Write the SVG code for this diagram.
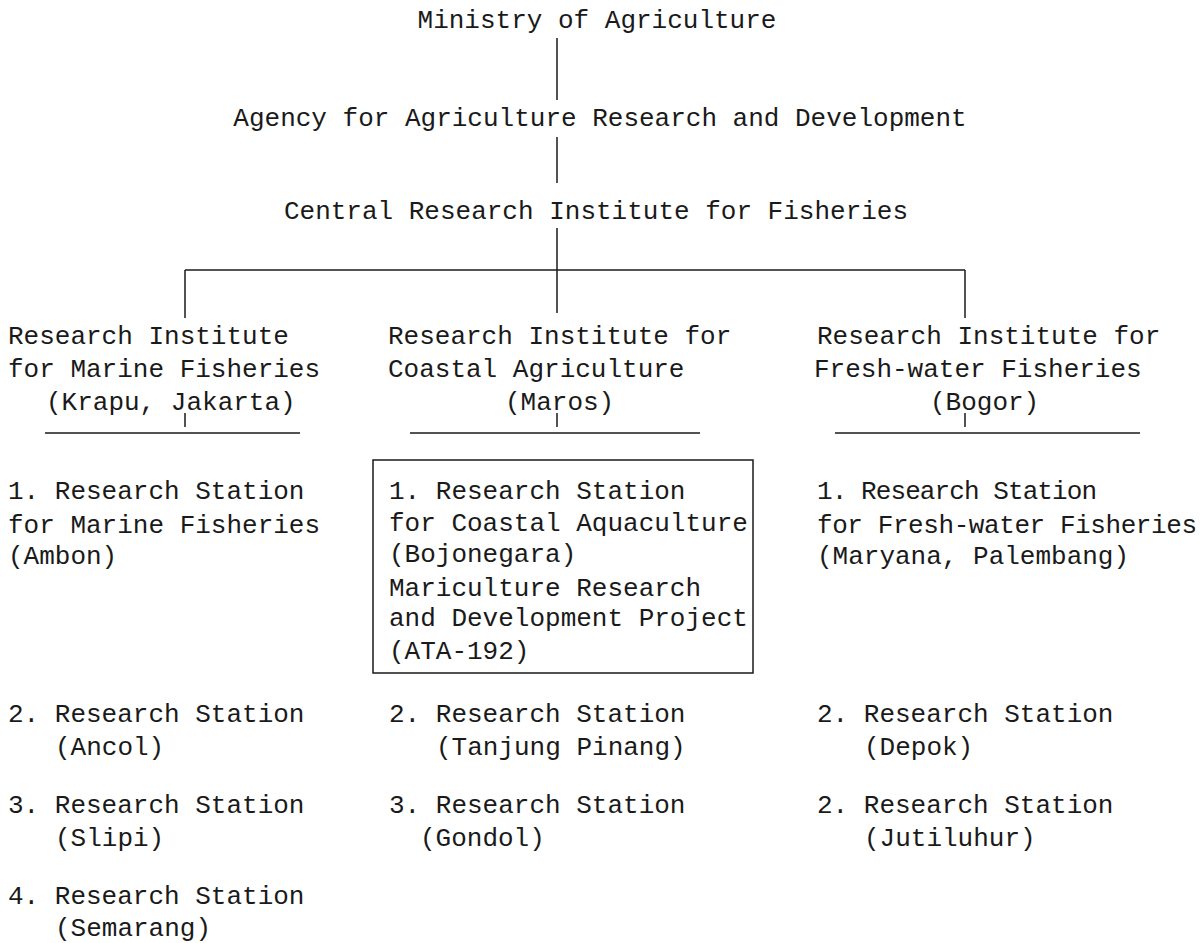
<svg xmlns="http://www.w3.org/2000/svg" width="1203" height="943" viewBox="0 0 1203 943">
<style>
text{font-family:"Liberation Mono","DejaVu Sans Mono",monospace;font-size:26px;fill:#1a1a1a}
.ln{stroke:#1a1a1a;stroke-width:1.5;fill:none}
</style>
<rect width="1203" height="943" fill="#fff"/>
<g id="connectors" class="ln">
<line x1="557" y1="38" x2="557" y2="100"/>
<line x1="557" y1="137" x2="557" y2="183"/>
<line x1="557" y1="228" x2="557" y2="313"/>
<line x1="185" y1="270" x2="965" y2="270"/>
<line x1="185" y1="270" x2="185" y2="318"/>
<line x1="965" y1="270" x2="965" y2="318"/>
<line x1="185" y1="413" x2="185" y2="427"/>
<line x1="557" y1="413" x2="557" y2="427"/>
<line x1="965" y1="413" x2="965" y2="427"/>
<line x1="45" y1="433" x2="300" y2="433"/>
<line x1="410" y1="433" x2="700" y2="433"/>
<line x1="835" y1="433" x2="1140" y2="433"/>
</g>
<g id="ministry"><text x="597" y="28" text-anchor="middle">Ministry of Agriculture</text></g>
<g id="agency"><text x="600" y="126" text-anchor="middle">Agency for Agriculture Research and Development</text></g>
<g id="central"><text x="596" y="219" text-anchor="middle">Central Research Institute for Fisheries</text></g>
<g id="ri-marine">
<text x="8" y="344">Research Institute</text>
<text x="8" y="377">for Marine Fisheries</text>
<text x="46" y="410">(Krapu, Jakarta)</text>
</g>
<g id="ri-coastal">
<text x="388" y="344">Research Institute for</text>
<text x="388" y="377">Coastal Agriculture</text>
<text x="505" y="410">(Maros)</text>
</g>
<g id="ri-freshwater">
<text x="817" y="344">Research Institute for</text>
<text x="814" y="377">Fresh-water Fisheries</text>
<text x="930" y="410">(Bogor)</text>
</g>
<g id="rs-marine-1">
<text x="8" y="499">1. Research Station</text>
<text x="8" y="533">for Marine Fisheries</text>
<text x="8" y="564">(Ambon)</text>
</g>
<g id="rs-coastal-1">
<rect x="373" y="460" width="380" height="213" class="ln"/>
<text x="389" y="499">1. Research Station</text>
<text x="389" y="531">for Coastal Aquaculture</text>
<text x="389" y="562">(Bojonegara)</text>
<text x="389" y="596">Mariculture Research</text>
<text x="389" y="626">and Development Project</text>
<text x="389" y="659">(ATA-192)</text>
</g>
<g id="rs-fresh-1">
<text x="817" y="499" textLength="280" lengthAdjust="spacing">1. Research Station</text>
<text x="817" y="533" textLength="380" lengthAdjust="spacing">for Fresh-water Fisheries</text>
<text x="817" y="564">(Maryana, Palembang)</text>
</g>
<g id="rs-marine-2">
<text x="8" y="722">2. Research Station</text>
<text x="55" y="755">(Ancol)</text>
</g>
<g id="rs-marine-3">
<text x="8" y="813">3. Research Station</text>
<text x="55" y="846">(Slipi)</text>
</g>
<g id="rs-marine-4">
<text x="8" y="904">4. Research Station</text>
<text x="55" y="936">(Semarang)</text>
</g>
<g id="rs-coastal-2">
<text x="389" y="722">2. Research Station</text>
<text x="436" y="755">(Tanjung Pinang)</text>
</g>
<g id="rs-coastal-3">
<text x="389" y="813">3. Research Station</text>
<text x="420" y="846">(Gondol)</text>
</g>
<g id="rs-fresh-2">
<text x="817" y="722">2. Research Station</text>
<text x="864" y="755">(Depok)</text>
</g>
<g id="rs-fresh-3">
<text x="817" y="813">2. Research Station</text>
<text x="864" y="846">(Jutiluhur)</text>
</g>
</svg>
